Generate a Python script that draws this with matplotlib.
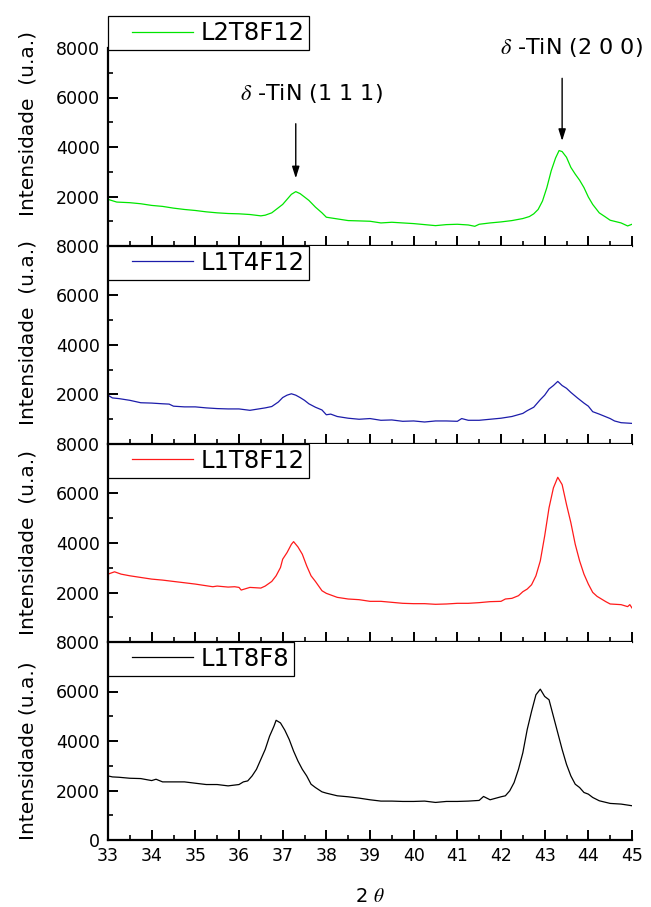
import matplotlib
matplotlib.use("Agg")
import matplotlib.pyplot as plt
from matplotlib.ticker import MultipleLocator
from matplotlib.lines import Line2D
from matplotlib.legend_handler import HandlerLine2D

plt.rcParams['font.family'] = ['DejaVu Sans']
plt.rcParams['mathtext.fontset'] = 'stix'

# ---- diffraction scans (2theta in degrees, intensity in a.u.) ----
x_l2t8f12 = [33.0, 33.2, 33.5, 33.75, 34.0, 34.25, 34.5, 34.75, 35.0, 35.25, 35.5, 35.75,
             36.0, 36.25, 36.5, 36.6, 36.75, 36.8, 37.0, 37.1, 37.2, 37.3, 37.4, 37.5,
             37.6, 37.75, 37.9, 38.0, 38.25, 38.5, 38.75, 39.0, 39.25, 39.5, 39.75, 40.0,
             40.25, 40.5, 40.75, 41.0, 41.25, 41.4, 41.5, 41.75, 42.0, 42.25, 42.5, 42.65,
             42.75, 42.85, 42.95, 43.05, 43.15, 43.25, 43.33, 43.4, 43.5, 43.6, 43.7, 43.8,
             43.9, 44.0, 44.1, 44.25, 44.4, 44.5, 44.75, 44.9, 45.0]
y_l2t8f12 = [1884, 1775, 1750, 1707, 1640, 1600, 1530, 1476, 1435, 1380, 1340, 1313,
             1300, 1272, 1218, 1245, 1340, 1408, 1680, 1884, 2088, 2197, 2115, 1980,
             1843, 1571, 1340, 1163, 1095, 1027, 1014, 1000, 932, 959, 932, 905,
             864, 823, 864, 878, 850, 796, 878, 932, 973, 1027, 1109, 1190,
             1300, 1476, 1816, 2360, 3040, 3557, 3856, 3815, 3584, 3176, 2904, 2659,
             2360, 1980, 1680, 1340, 1163, 1041, 932, 810, 878]

x_l1t4f12 = [33.0, 33.1, 33.25, 33.5, 33.75, 34.0, 34.25, 34.4, 34.5, 34.75, 35.0, 35.25,
             35.5, 35.75, 36.0, 36.25, 36.5, 36.6, 36.75, 36.9, 37.0, 37.1, 37.2, 37.3,
             37.4, 37.5, 37.6, 37.75, 37.9, 38.0, 38.1, 38.25, 38.5, 38.75, 39.0, 39.25,
             39.5, 39.75, 40.0, 40.25, 40.5, 40.75, 41.0, 41.1, 41.25, 41.5, 41.75, 42.0,
             42.25, 42.5, 42.6, 42.75, 42.9, 43.0, 43.1, 43.2, 43.3, 43.4, 43.5, 43.6,
             43.75, 43.9, 44.0, 44.1, 44.25, 44.5, 44.6, 44.75, 45.0]
y_l1t4f12 = [1973, 1862, 1834, 1765, 1667, 1653, 1625, 1612, 1528, 1500, 1500, 1459,
             1431, 1417, 1417, 1361, 1431, 1459, 1514, 1695, 1876, 1973, 2029, 1973,
             1876, 1765, 1625, 1486, 1375, 1181, 1208, 1111, 1042, 1000, 1028, 958,
             972, 917, 931, 889, 931, 931, 917, 1028, 958, 958, 1000, 1042,
             1111, 1236, 1347, 1486, 1792, 1973, 2223, 2362, 2529, 2362, 2251, 2084,
             1862, 1653, 1528, 1306, 1208, 1028, 931, 861, 833]

x_l1t8f12 = [33.0, 33.15, 33.3, 33.5, 33.75, 34.0, 34.25, 34.5, 34.75, 35.0, 35.25, 35.4,
             35.5, 35.75, 35.9, 36.0, 36.05, 36.25, 36.5, 36.6, 36.75, 36.85, 36.95, 37.0,
             37.1, 37.2, 37.25, 37.35, 37.45, 37.55, 37.65, 37.75, 37.9, 38.0, 38.25, 38.5,
             38.75, 39.0, 39.25, 39.5, 39.75, 40.0, 40.25, 40.5, 40.75, 41.0, 41.25, 41.5,
             41.75, 42.0, 42.1, 42.25, 42.4, 42.5, 42.6, 42.7, 42.8, 42.9, 43.0, 43.1,
             43.2, 43.3, 43.4, 43.5, 43.6, 43.7, 43.8, 43.9, 44.0, 44.1, 44.2, 44.3,
             44.4, 44.5, 44.75, 44.9, 44.95, 45.0]
y_l1t8f12 = [2742, 2836, 2742, 2675, 2608, 2541, 2501, 2447, 2394, 2340, 2273, 2233,
             2260, 2219, 2233, 2206, 2099, 2206, 2179, 2260, 2447, 2675, 3010, 3345,
             3613, 3948, 4055, 3841, 3546, 3077, 2675, 2447, 2072, 1965, 1804, 1737,
             1710, 1643, 1643, 1603, 1563, 1549, 1549, 1523, 1536, 1563, 1563, 1590,
             1630, 1643, 1737, 1764, 1871, 2032, 2139, 2313, 2675, 3278, 4283, 5422,
             6226, 6655, 6360, 5556, 4819, 3948, 3278, 2742, 2340, 2005, 1844, 1737,
             1630, 1536, 1509, 1429, 1509, 1375]

x_l1t8f8 = [33.0, 33.1, 33.25, 33.5, 33.75, 34.0, 34.1, 34.25, 34.5, 34.75, 35.0, 35.25,
            35.5, 35.75, 36.0, 36.1, 36.2, 36.3, 36.4, 36.5, 36.6, 36.7, 36.8, 36.85,
            36.95, 37.05, 37.15, 37.25, 37.35, 37.45, 37.55, 37.65, 37.75, 37.9, 38.0, 38.25,
            38.5, 38.75, 39.0, 39.25, 39.5, 39.75, 40.0, 40.25, 40.5, 40.75, 41.0, 41.25,
            41.5, 41.6, 41.75, 42.0, 42.1, 42.2, 42.3, 42.4, 42.5, 42.6, 42.7, 42.8,
            42.9, 43.0, 43.1, 43.2, 43.3, 43.4, 43.5, 43.6, 43.7, 43.8, 43.9, 44.0,
            44.1, 44.25, 44.5, 44.75, 44.9, 45.0]
y_l1t8f8 = [2589, 2549, 2535, 2495, 2482, 2401, 2455, 2348, 2348, 2348, 2294, 2241,
            2241, 2187, 2241, 2348, 2388, 2589, 2856, 3258, 3659, 4194, 4596, 4837,
            4730, 4435, 4061, 3592, 3191, 2856, 2589, 2254, 2120, 1946, 1893, 1786,
            1746, 1692, 1625, 1572, 1572, 1558, 1558, 1572, 1518, 1558, 1558, 1572,
            1599, 1759, 1625, 1746, 1786, 1987, 2321, 2856, 3525, 4462, 5198, 5867,
            6094, 5800, 5666, 4997, 4328, 3659, 3057, 2589, 2254, 2120, 1920, 1853,
            1719, 1585, 1478, 1451, 1411, 1384]

samples = ["L2T8F12", "L1T4F12", "L1T8F12", "L1T8F8"]
series_x = [x_l2t8f12, x_l1t4f12, x_l1t8f12, x_l1t8f8]
series_y = [y_l2t8f12, y_l1t4f12, y_l1t8f12, y_l1t8f8]
colors = ["#00e600", "#1c1caa", "#ff1a1a", "#000000"]
ylabels = ["Intensidade  (u.a.)", "Intensidade  (u.a.)", "Intensidade  (u.a.)",
           "Intensidade (u.a.)"]
ylabel_ypos = [0.62, 0.565, 0.505, 0.45]

x_ticks = list(range(33, 46))
y_major = [2000, 4000, 6000, 8000]
y_major_bottom = [0, 2000, 4000, 6000, 8000]

peak_labels = [r"$\delta$ -TiN (1 1 1)", r"$\delta$ -TiN (2 0 0)"]
peak_pos = [37.3, 43.4]
peak_arrow_top = [4940, 6775]
peak_arrow_tip = [2735, 4245]
peak_text_xy = [(37.67, 6150), (43.62, 8020)]

W, H = 651, 907
fig = plt.figure(figsize=(W / 100, H / 100), dpi=100)

left_px, right_px = 108, 632
top_px, panel_px = 48, 198

axes = []
for i in range(4):
    bottom_px = top_px + panel_px * (i + 1)
    ax = fig.add_axes([left_px / W, 1 - bottom_px / H,
                       (right_px - left_px) / W, panel_px / H])
    axes.append(ax)

legend_fs = 17.5
handler = {Line2D: HandlerLine2D(xpad=0.8)}

for i, ax in enumerate(axes):
    ax.plot(series_x[i], series_y[i], color=colors[i], lw=0.9, label=samples[i])
    ax.set_xlim(33, 45)
    ax.set_ylim(0, 8000)
    ax.spines['top'].set_visible(False)
    ax.spines['right'].set_visible(False)
    ax.spines['left'].set_linewidth(1.6)
    ax.spines['bottom'].set_linewidth(1.6)
    ax.set_xticks(x_ticks)
    ax.xaxis.set_minor_locator(MultipleLocator(0.5))
    ax.set_yticks(y_major_bottom if i == 3 else y_major)
    ax.yaxis.set_minor_locator(MultipleLocator(1000))
    ax.tick_params(which='major', direction='in', length=7, width=1.4,
                   labelsize=12.5, pad=6)
    ax.tick_params(which='minor', direction='in', length=3.5, width=1.2)
    ax.tick_params(axis='x', which='both', top=False)
    ax.tick_params(axis='y', which='both', right=False)
    ax.tick_params(axis='x', pad=5)
    if i < 3:
        ax.tick_params(axis='x', labelbottom=False)
    ax.set_ylabel(ylabels[i], fontsize=14.5)
    ax.yaxis.set_label_coords(-0.135, ylabel_ypos[i])

    if i == 0:
        anchor, loc = (0.0, 0.99), 'lower left'
    else:
        anchor, loc = (0.0, 1.0), 'upper left'
    leg = ax.legend(loc=loc, bbox_to_anchor=anchor, borderaxespad=0,
                    fontsize=legend_fs, handlelength=3.3, handletextpad=0.3,
                    borderpad=0.2, fancybox=False, framealpha=1,
                    edgecolor='black', handler_map=handler)
    leg.get_frame().set_linewidth(0.9)

axes[3].set_xlabel(r"2 $\theta$", fontsize=14, labelpad=16)

# peak markers on the top scan
ax0 = axes[0]
for lab, xp, y0, y1, (tx, ty) in zip(peak_labels, peak_pos, peak_arrow_top,
                                     peak_arrow_tip, peak_text_xy):
    ax0.annotate("", xy=(xp, y1), xytext=(xp, y0), annotation_clip=False,
                 arrowprops=dict(arrowstyle='-|>,head_length=0.7,head_width=0.22',
                                 color='black', lw=1.0, shrinkA=0, shrinkB=0))
    ax0.text(tx, ty, lab, ha='center', va='center', fontsize=16, clip_on=False)

fig.savefig("out.png", dpi=100)
